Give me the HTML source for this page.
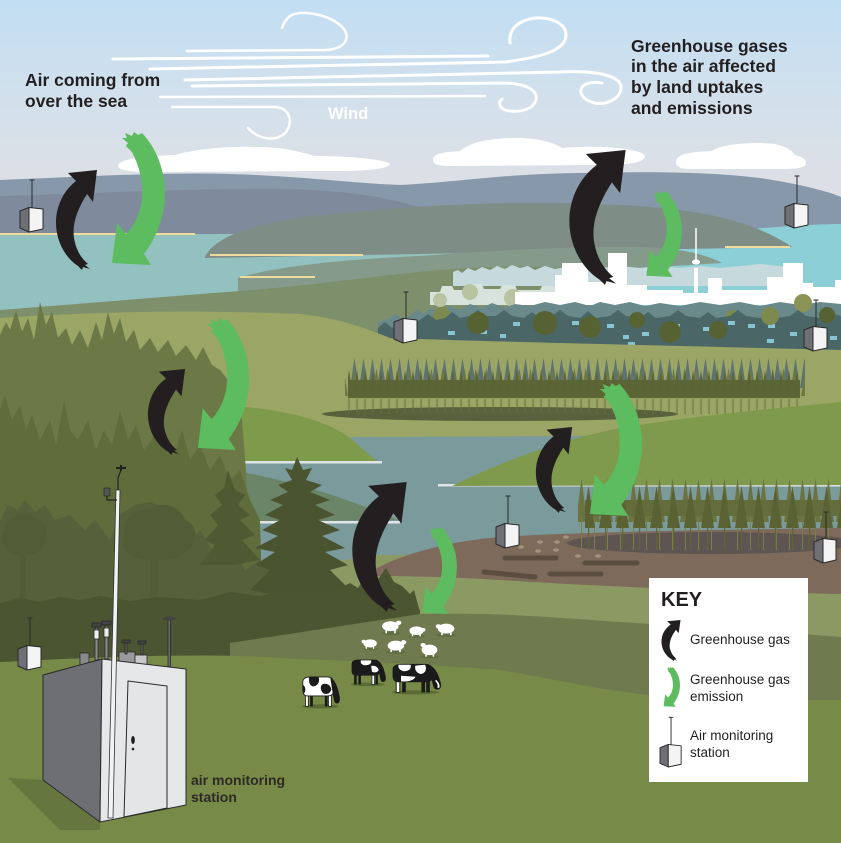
<!DOCTYPE html>
<html><head><meta charset="utf-8">
<style>
html,body{margin:0;padding:0;width:841px;height:843px;overflow:hidden;background:#fff;}
svg{display:block;}
text{font-family:"Liberation Sans",Arial,sans-serif;}
</style></head><body>
<svg width="841" height="843" viewBox="0 0 841 843" xmlns="http://www.w3.org/2000/svg">
<defs>
<linearGradient id="sky" x1="0" y1="0" x2="0" y2="1">
<stop offset="0" stop-color="#c2def3"/>
<stop offset="0.35" stop-color="#d3e0eb"/>
<stop offset="0.7" stop-color="#e0dfe4"/>
<stop offset="1" stop-color="#e0dfe4"/>
</linearGradient>
<pattern id="tA" width="9" height="34" patternUnits="userSpaceOnUse" x="350" y="358"><polygon points="4.5,0 9,30 0,30" fill="#5e7272"/></pattern>
<pattern id="tB2" width="11" height="40" patternUnits="userSpaceOnUse" x="349" y="366"><polygon points="5.5,2 10,30 1,30" fill="#6d7842"/></pattern>
<pattern id="tB" width="8" height="52" patternUnits="userSpaceOnUse" x="345" y="364"><polygon points="4,6 8,34 0,34" fill="#5b6434"/><rect x="3.5" y="32" width="1" height="20" fill="#6b7040"/></pattern>
<pattern id="tC" width="13" height="75" patternUnits="userSpaceOnUse" x="575" y="478"><polygon points="6.5,0 12,44 1,44" fill="#6b7441"/><rect x="6" y="40" width="1" height="35" fill="#7a7e47"/></pattern>
<pattern id="tD" width="17" height="70" patternUnits="userSpaceOnUse" x="580" y="486"><polygon points="8.5,0 15,42 2,42" fill="#5a6233"/><rect x="8" y="40" width="1.2" height="30" fill="#5e6536"/></pattern>
</defs>

<!-- sky -->
<rect x="0" y="0" width="841" height="300" fill="url(#sky)"/>

<!-- wind -->
<g fill="none" stroke="#ffffff" stroke-linecap="round">
<path d="M187,51 L325,50 C348,49 352,35 340,25 C325,13 300,10 290,16 C285,20 283,25 282,28" stroke-width="2.5"/>
<path d="M113,59 L488,56" stroke-width="3"/>
<path d="M150,69 L505,62 C535,58 566,52 566,35 C566,22 548,17 535,18 C520,20 508,28 510,43" stroke-width="3"/>
<path d="M185,80 L560,72 C600,70 622,77 621,88 C620,100 605,105 595,103 C582,100 578,92 583,86 C588,82 596,82 602,83" stroke-width="3"/>
<path d="M192,86 L505,83 C530,84 538,92 536,100 C533,110 520,112 510,111 C500,110 497,103 502,99" stroke-width="3"/>
<path d="M160,97 L485,96" stroke-width="2.5"/>
<path d="M172,107 L275,107 C292,108 293,125 285,133 C277,141 260,141 248,128" stroke-width="2.5"/>
</g>
<text x="328" y="119" font-size="16.5" font-weight="bold" fill="#ffffff">Wind</text>

<!-- clouds -->
<g fill="#ffffff">
<path d="M118,166 C118,158 150,156 175,155 C195,149 230,146 255,147 C285,147 300,152 315,156 C345,156 385,159 390,164 C388,170 360,171 330,171 L150,172 C128,172 118,170 118,166 Z"/>
<path d="M433,160 C433,153 445,152 460,151 C470,142 490,138 515,138 C540,138 555,143 562,148 C590,145 640,147 645,156 C645,164 620,165 600,165 L450,166 C438,166 433,164 433,160 Z"/>
<path d="M676,162 C676,154 690,152 712,151 C720,145 740,143 760,143 C780,143 790,148 795,155 C803,157 807,160 806,164 C804,169 790,169 780,169 L690,169 C680,169 676,166 676,162 Z"/>
</g>

<!-- mountains -->
<path d="M0,180 C80,177 160,172 230,174 C300,176 350,183 400,185 C460,182 500,174 580,173 C640,172 700,171 760,178 C800,184 830,192 841,197 L841,300 L0,300 Z" fill="#8898ab"/>
<path d="M0,196 C100,193 200,188 280,189 C350,190 400,198 440,215 L440,240 L0,240 Z" fill="#7f8b9c"/>

<!-- seas -->
<rect x="0" y="234" width="620" height="80" fill="#93c1bf"/>
<path d="M600,320 L600,250 L720,232 C780,226 820,224 841,224 L841,330 L600,330 Z" fill="#8ccfd6"/>
<rect x="0" y="233" width="195" height="2" fill="#eedc9c"/>

<!-- middle mound -->
<path d="M205,257 C215,235 260,222 320,215 C400,207 470,203 530,203 C600,203 660,206 700,213 C740,220 770,232 792,247 L205,258 Z" fill="#7f8d87"/>
<rect x="725" y="246" width="65" height="2" fill="#eedc9c"/>
<rect x="210" y="254" width="153" height="2" fill="#eedc9c"/>
<path d="M238,278 C270,268 330,260 420,256 C500,250 580,246 640,247 C680,248 705,254 722,263 L640,268 L600,275 L600,300 L238,300 Z" fill="#859a8b"/>
<rect x="240" y="276" width="75" height="2" fill="#eedc9c"/>

<!-- green hill -->
<path d="M0,310 C80,304 160,297 240,291 C320,285 380,275 440,270 C500,265 560,265 620,272 L640,300 L640,340 L0,340 Z" fill="#7e8f6b"/>

<!-- city -->
<path d="M453,286 L453,272 L458,270 L462,273 L468,268 L475,271 L482,267 L490,270 L497,266 L505,269 L512,265 L520,268 L528,266 L535,270 L545,266 L555,269 L565,267 L575,270 L585,266 L600,268 L620,266 L640,268 L660,266 L680,268 L700,266 L720,268 L740,266 L760,264 L780,266 L800,270 L800,286 Z" fill="#c6d9dc"/>
<path d="M430,305 L430,292 L440,292 L442,286 L452,286 L454,290 L470,290 L472,284 L482,284 L484,289 L500,289 L502,285 L515,285 L517,290 L540,290 L542,286 L555,286 L555,305 Z" fill="#d9e3de"/>
<g fill="#b9c3a2"><circle cx="470" cy="292" r="8"/><circle cx="513" cy="298" r="9"/><circle cx="440" cy="300" r="7"/></g>
<g fill="#ffffff">
<path d="M555,305 L555,275 L562,275 L562,263 L588,263 L588,282 L608,282 L608,253 L627,253 L627,285 L647,285 L647,290 L683,290 L683,293 L694,293 L694,268 L698,268 L698,293 L708,293 L708,278 L722,278 L722,290 L767,290 L767,277 L783,277 L783,263 L803,263 L803,283 L813,283 L813,287 L835,287 L835,280 L841,280 L841,305 Z"/>
<rect x="515" y="292" width="40" height="13"/>
<ellipse cx="696" cy="262" rx="4" ry="2.5"/>
</g>
<line x1="696" y1="228" x2="696" y2="262" stroke="#ffffff" stroke-width="1.5"/>

<!-- houses -->
<path d="M378,350 L378,322 L390,318 L395,314 L402,318 L410,316 L416,310 L424,314 L430,308 L440,312 L450,306 L460,310 L470,304 L482,308 L492,303 L505,308 L515,304 L530,306 L545,302 L560,305 L575,302 L590,306 L600,302 L615,305 L630,302 L645,306 L660,303 L680,306 L700,302 L720,305 L740,302 L760,306 L780,302 L800,305 L820,302 L841,304 L841,350 Z" fill="#6a898b"/>
<g fill="#7d8a4e"><circle cx="442" cy="316" r="9"/><circle cx="733" cy="318" r="8"/><circle cx="803" cy="303" r="9" fill="#8b9357"/></g>
<path d="M378,350 L378,328 L385,322 L392,328 L400,322 L405,318 L412,324 L420,320 L428,314 L436,320 L445,318 L452,312 L460,318 L470,316 L478,310 L486,316 L496,316 L504,310 L512,316 L524,318 L532,312 L540,318 L552,316 L560,310 L568,316 L580,318 L588,311 L596,318 L610,316 L618,310 L626,316 L640,318 L648,312 L656,318 L670,316 L678,310 L686,316 L700,318 L708,312 L716,318 L730,316 L738,310 L746,316 L760,318 L768,312 L776,318 L790,316 L798,310 L806,316 L820,318 L828,312 L841,316 L841,350 Z" fill="#4b6667"/>
<g fill="#88c3d2">
<rect x="448" y="331" width="7" height="4"/><rect x="480" y="330" width="7" height="4"/><rect x="500" y="334" width="6" height="4"/><rect x="513" y="322" width="7" height="4"/><rect x="572" y="321" width="7" height="4"/><rect x="607" y="324" width="7" height="4"/><rect x="623" y="335" width="6" height="4"/><rect x="642" y="332" width="7" height="4"/><rect x="673" y="324" width="7" height="4"/><rect x="703" y="327" width="7" height="4"/><rect x="728" y="321" width="7" height="4"/><rect x="748" y="324" width="7" height="4"/><rect x="768" y="324" width="7" height="4"/><rect x="790" y="332" width="7" height="4"/><rect x="767" y="339" width="7" height="4"/><rect x="830" y="336" width="7" height="4"/><rect x="628" y="342" width="7" height="3"/>
</g>
<g fill="#566232">
<circle cx="478" cy="323" r="11"/><circle cx="545" cy="323" r="12"/><circle cx="590" cy="327" r="11"/><circle cx="637" cy="320" r="8"/><circle cx="670" cy="332" r="11"/><circle cx="770" cy="316" r="9" fill="#7d8a4e"/><circle cx="827" cy="315" r="8"/><circle cx="718" cy="330" r="9"/>
</g>

<!-- field -->
<path d="M0,318 C100,311 200,310 300,314 C340,318 370,330 390,338 C500,342 650,345 841,350 L841,450 L0,450 Z" fill="#9aa566"/>

<!-- forest row -->
<ellipse cx="500" cy="414" rx="178" ry="7" fill="#58613b"/>
<rect x="350" y="358" width="455" height="30" fill="url(#tA)"/>
<rect x="345" y="366" width="460" height="32" fill="url(#tB2)"/>
<rect x="348" y="380" width="452" height="18" fill="#5c6536"/>
<rect x="348" y="364" width="450" height="50" fill="url(#tB)"/>

<!-- lake -->
<path d="M230,460 C260,450 300,440 360,437 L600,436 C640,437 680,440 700,445 L841,470 L841,565 L230,565 Z" fill="#7a9a9c"/>
<path d="M230,470 C280,478 340,495 398,520 L230,522 Z" fill="#6b8568"/>
<path d="M200,405 C260,405 320,415 350,438 C362,448 372,458 380,463 L200,463 Z" fill="#7e9a4b"/>
<rect x="240" y="461" width="142" height="2.5" fill="#e0e4e4"/>
<rect x="245" y="521" width="155" height="2.5" fill="#e0e4e4"/>
<rect x="438" y="484" width="403" height="2.5" fill="#e0e4e4"/>
<path d="M452,486 C500,462 560,440 620,428 C700,415 780,408 841,402 L841,485 L452,486 Z" fill="#7f9a4d"/>

<!-- lower light field, brown land -->
<path d="M240,585 L330,562 L380,555 L841,560 L841,720 L240,720 Z" fill="#8b9a63"/>
<path d="M370,572 C400,554 450,541 500,537 C580,532 700,530 841,528 L841,594 C760,592 620,588 500,580 C450,577 410,576 370,576 Z" fill="#7d6a5b"/>
<ellipse cx="712" cy="543" rx="145" ry="11" fill="#5e5452"/>
<g stroke-linecap="round">
<line x1="505" y1="558" x2="556" y2="558" stroke="#5b4d40" stroke-width="5"/>
<line x1="585" y1="563" x2="637" y2="563" stroke="#5b4d40" stroke-width="5"/>
<line x1="484" y1="572" x2="535" y2="577" stroke="#5b4d40" stroke-width="5"/>
<line x1="550" y1="574" x2="601" y2="574" stroke="#5b4d40" stroke-width="5"/>
</g>
<g fill="#a39279">
<ellipse cx="521" cy="547" rx="3" ry="1.8"/><ellipse cx="540" cy="542" rx="3" ry="1.8"/><ellipse cx="557" cy="542" rx="3" ry="1.8"/><ellipse cx="566" cy="537" rx="3" ry="1.8"/><ellipse cx="538" cy="551" rx="3" ry="1.8"/><ellipse cx="556" cy="550" rx="3" ry="1.8"/><ellipse cx="578" cy="556" rx="3" ry="1.8"/><ellipse cx="598" cy="556" rx="3" ry="1.8"/>
</g>
<rect x="578" y="478" width="263" height="72" fill="url(#tC)"/>
<rect x="585" y="500" width="256" height="16" fill="#636c3a"/>
<rect x="585" y="486" width="256" height="64" fill="url(#tD)"/>

<!-- left forest -->
<path d="M0,700 L0,335 L6,322 L10,330 L16,310 L22,332 L28,318 L34,340 L40,302 L46,325 L52,312 L58,338 L66,328 L72,345 L80,330 L88,348 L96,322 L102,340 L108,312 L114,334 L120,318 L126,342 L134,330 L140,350 L150,338 L158,352 L168,340 L176,356 L186,345 L196,360 L203,347 L212,365 L220,370 L228,380 L236,395 L242,420 L246,470 L248,520 L250,700 Z" fill="#6c7946"/>
<path d="M0,700 L0,410 L5,395 L12,420 L20,405 L26,430 L32,415 L40,440 L50,420 L56,445 L64,400 L70,430 L78,440 L88,420 L96,450 L104,430 L112,445 L120,410 L128,440 L136,425 L144,450 L152,440 L160,405 L166,440 L174,455 L182,430 L190,460 L200,445 L210,470 L220,455 L230,480 L240,470 L250,500 L260,520 L265,700 Z" fill="#5f6c3c"/>
<path d="M0,700 L0,520 L8,505 L18,510 L25,500 L35,512 L45,505 L55,520 L70,515 L85,530 L95,520 L110,540 L120,515 L135,505 L150,502 L165,508 L178,520 L190,540 L200,530 L215,555 L230,545 L245,570 L260,560 L280,580 L300,585 L330,590 L360,592 L400,600 L420,610 L420,700 Z" fill="#55613a"/>
<path d="M150,600 L150,560 C130,560 118,548 125,535 C120,520 135,508 150,510 C160,500 180,505 185,520 C200,525 198,545 185,552 C180,560 165,560 158,560 L158,600 Z" fill="#515d36"/>
<path d="M20,600 L20,555 C5,555 -2,540 5,528 C8,515 25,510 35,518 C48,520 50,540 40,550 C35,555 28,555 26,555 L26,600 Z" fill="#515d36"/>
<polygon points="228,470 235,490 245,495 238,505 250,515 240,520 255,535 242,540 260,560 235,565 200,565 215,545 205,540 218,525 210,515 222,505 215,495 224,488" fill="#4f5a33"/>
<polygon points="297,457 303,470 312,468 306,480 322,485 310,492 330,500 315,505 335,515 318,520 340,530 322,536 345,548 325,552 348,565 330,570 350,590 300,600 250,590 270,570 255,565 275,552 255,548 278,536 262,530 280,520 265,515 283,505 270,500 288,492 278,485 292,480 285,468 292,470" fill="#4a5430"/>
<path d="M0,700 L0,603 L20,598 L40,602 L60,597 L80,600 L100,596 L130,601 L160,597 L200,600 L230,592 L260,596 L290,590 L320,592 L340,588 L350,583 L358,588 L366,576 L374,585 L386,568 L394,582 L402,586 L410,594 L414,590 L420,612 L420,700 Z" fill="#4b5531"/>

<!-- mid band & foreground -->
<path d="M230,643 L420,614 C500,612 560,618 620,622 C720,628 780,632 841,637 L841,843 L230,843 Z" fill="#6f7a4f"/>
<path d="M0,662 C80,658 200,652 280,658 C380,662 450,666 500,670 C560,680 600,690 650,695 C720,700 780,700 841,700 L841,843 L0,843 Z" fill="#778a48"/>

<!-- sheep -->
<g fill="#ffffff">
<g transform="translate(381,619) scale(1.1)"><ellipse cx="9" cy="13" rx="9" ry="1.5" fill="#55653a" opacity="0.6"/><rect x="4" y="7" width="1.5" height="6"/><rect x="12" y="7" width="1.5" height="6"/><ellipse cx="8.5" cy="6.5" rx="7.5" ry="4.5"/><ellipse cx="16" cy="3.5" rx="2.5" ry="2"/></g>
<g transform="translate(408,625) scale(0.95)"><ellipse cx="9" cy="12" rx="9" ry="1.5" fill="#55653a" opacity="0.6"/><rect x="4" y="7" width="1.5" height="5"/><rect x="12" y="7" width="1.5" height="5"/><ellipse cx="9" cy="6" rx="7.5" ry="4.5"/><ellipse cx="16" cy="5" rx="2.5" ry="2"/></g>
<g transform="translate(456,622) scale(-1.1,1.1)"><ellipse cx="9" cy="12" rx="9" ry="1.5" fill="#55653a" opacity="0.6"/><rect x="4" y="7" width="1.5" height="5"/><rect x="12" y="7" width="1.5" height="5"/><ellipse cx="9" cy="6" rx="7.5" ry="4.5"/><ellipse cx="16" cy="4" rx="2.5" ry="2"/></g>
<g transform="translate(362,638) scale(0.9)"><ellipse cx="9" cy="12" rx="9" ry="1.5" fill="#55653a" opacity="0.6"/><rect x="4" y="7" width="1.5" height="5"/><rect x="12" y="7" width="1.5" height="5"/><ellipse cx="9" cy="6" rx="7.5" ry="4.5"/><ellipse cx="2" cy="4" rx="2.5" ry="2"/></g>
<g transform="translate(386,639) scale(1.1)"><ellipse cx="9" cy="12" rx="9" ry="1.5" fill="#55653a" opacity="0.6"/><rect x="4" y="7" width="1.5" height="5"/><rect x="12" y="7" width="1.5" height="5"/><ellipse cx="9" cy="6" rx="7.5" ry="4.5"/><ellipse cx="16" cy="3" rx="2.5" ry="2"/></g>
<g transform="translate(420,642) scale(1.05)"><ellipse cx="9" cy="14" rx="9" ry="1.5" fill="#55653a" opacity="0.6"/><rect x="5" y="8" width="1.5" height="6"/><rect x="12" y="8" width="1.5" height="6"/><ellipse cx="9" cy="7.5" rx="7.5" ry="5"/><ellipse cx="3" cy="3" rx="2.5" ry="2"/></g>
</g>

<!-- cows -->
<g transform="translate(300,675) scale(0.92,0.95)">
<ellipse cx="22" cy="33" rx="20" ry="2.2" fill="#4f5e30" opacity="0.7"/>
<rect x="6" y="18" width="3" height="15" fill="#fff" stroke="#1a1a1a" stroke-width="0.8"/><rect x="11" y="19" width="3" height="14" fill="#1a1a1a"/><rect x="27" y="19" width="3" height="14" fill="#1a1a1a"/><rect x="31" y="18" width="3" height="15" fill="#fff" stroke="#1a1a1a" stroke-width="0.8"/>
<path d="M3,8 C3,3 7,2 12,2 L30,2 C34,2 36,4 36,8 L36,18 C36,21 33,22 30,22 L8,22 C4,22 3,19 3,15 Z" fill="#fff" stroke="#1a1a1a" stroke-width="0.9"/>
<path d="M10,2 L20,2 C22,6 20,11 15,12 C11,12 9,8 10,2 Z" fill="#1a1a1a"/><path d="M24,10 C28,8 33,10 34,15 C33,20 28,21 25,19 C22,16 22,12 24,10 Z" fill="#1a1a1a"/><path d="M3,10 C6,12 7,17 4,20 L3,15 Z" fill="#1a1a1a"/>
<path d="M33,3 C38,5 41,12 43,22 C44,27 43,30 40,30 C37,30 37,26 36,22 L35,16 Z" fill="#1a1a1a"/>
</g>
<g transform="translate(349,658) scale(0.85,0.8)">
<ellipse cx="22" cy="33" rx="20" ry="2.2" fill="#4f5e30" opacity="0.7"/>
<rect x="6" y="18" width="3" height="15" fill="#1a1a1a"/><rect x="11" y="19" width="3" height="14" fill="#1a1a1a"/><rect x="27" y="19" width="3" height="14" fill="#fff" stroke="#1a1a1a" stroke-width="0.8"/><rect x="31" y="18" width="3" height="15" fill="#1a1a1a"/>
<path d="M3,8 C3,3 7,2 12,2 L30,2 C34,2 36,4 36,8 L36,18 C36,21 33,22 30,22 L8,22 C4,22 3,19 3,15 Z" fill="#1a1a1a"/>
<path d="M14,3 L26,3 C27,7 24,9 19,9 C15,9 13,6 14,3 Z" fill="#fff"/><path d="M26,10 C30,9 34,11 35,15 C34,18 30,19 27,17 Z" fill="#fff"/>
<path d="M33,3 C38,5 41,12 43,22 C44,27 43,30 40,30 C37,30 37,26 36,22 L35,16 Z" fill="#1a1a1a"/>
</g>
<g transform="translate(389,662) scale(1.2,0.92)">
<ellipse cx="22" cy="33" rx="20" ry="2.2" fill="#4f5e30" opacity="0.7"/>
<rect x="6" y="18" width="3" height="15" fill="#fff" stroke="#1a1a1a" stroke-width="0.8"/><rect x="11" y="19" width="3" height="14" fill="#1a1a1a"/><rect x="27" y="19" width="3" height="14" fill="#1a1a1a"/><rect x="31" y="18" width="3" height="15" fill="#1a1a1a"/>
<path d="M3,8 C3,3 7,2 12,2 L30,2 C34,2 36,4 36,8 L36,18 C36,21 33,22 30,22 L8,22 C4,22 3,19 3,15 Z" fill="#1a1a1a"/>
<path d="M8,3 L18,3 C19,8 16,10 12,10 C9,9 7,6 8,3 Z" fill="#fff"/><path d="M22,4 L30,3 C32,8 30,13 26,13 C23,12 21,8 22,4 Z" fill="#fff"/><path d="M10,15 L22,16 C21,20 15,22 10,21 Z" fill="#fff"/>
<path d="M33,3 C38,5 41,12 43,22 C44,27 43,30 40,30 C37,30 37,26 36,22 L35,16 Z" fill="#1a1a1a"/><path d="M39,20 C41,23 42,26 41,28" stroke="#fff" stroke-width="1.5" fill="none"/>
</g>

<!-- small stations -->
<g stroke="#2a2a2a" stroke-width="1" stroke-linejoin="round">
<g transform="translate(20,207)"><line x1="12" y1="-27" x2="12" y2="1"/><line x1="9.5" y1="-27" x2="14.5" y2="-27"/><polygon points="0,4 9,0.5 9,25 0,21" fill="#6f7075"/><polygon points="9,0.5 23,2 23,22 9,25" fill="#f4f4f4"/></g>
<g transform="translate(785,203)"><line x1="12" y1="-27" x2="12" y2="1"/><line x1="9.5" y1="-27" x2="14.5" y2="-27"/><polygon points="0,4 9,0.5 9,25 0,21" fill="#6f7075"/><polygon points="9,0.5 23,2 23,22 9,25" fill="#f4f4f4"/></g>
<g transform="translate(394,318)"><line x1="12" y1="-26" x2="12" y2="1"/><line x1="9.5" y1="-26" x2="14.5" y2="-26"/><polygon points="0,4 9,0.5 9,25 0,21" fill="#6f7075"/><polygon points="9,0.5 23,2 23,22 9,25" fill="#f4f4f4"/></g>
<g transform="translate(804,326)"><line x1="12" y1="-26" x2="12" y2="1"/><line x1="9.5" y1="-26" x2="14.5" y2="-26"/><polygon points="0,4 9,0.5 9,25 0,21" fill="#6f7075"/><polygon points="9,0.5 23,2 23,22 9,25" fill="#f4f4f4"/></g>
<g transform="translate(496,523)"><line x1="12" y1="-27" x2="12" y2="1"/><line x1="9.5" y1="-27" x2="14.5" y2="-27"/><polygon points="0,4 9,0.5 9,25 0,21" fill="#6f7075"/><polygon points="9,0.5 23,2 23,22 9,25" fill="#f4f4f4"/></g>
<g transform="translate(814,538)"><line x1="12" y1="-26" x2="12" y2="1"/><line x1="9.5" y1="-26" x2="14.5" y2="-26"/><polygon points="0,4 9,0.5 9,25 0,21" fill="#6f7075"/><polygon points="9,0.5 22,2 22,22 9,25" fill="#f4f4f4"/></g>
<g transform="translate(18,645)"><line x1="12" y1="-27" x2="12" y2="1"/><line x1="9.5" y1="-27" x2="14.5" y2="-27"/><polygon points="0,4 9,0.5 9,25 0,21" fill="#6f7075"/><polygon points="9,0.5 23,2 23,22 9,25" fill="#f4f4f4"/></g>
</g>

<!-- big station -->
<polygon points="8,778 43,780 100,822 100,830 60,830" fill="#65773f"/>
<g stroke="#2a2a2a" stroke-width="0.8">
<rect x="80" y="653" width="9" height="12" fill="#8a8a8e"/>
<rect x="119" y="652" width="16" height="13" fill="#9a9a9e"/>
<rect x="135" y="655" width="12" height="13" fill="#c8c8ca"/>
<rect x="95" y="628" width="3" height="32" fill="#8d8d90"/><rect x="92" y="623" width="9" height="4" fill="#444"/><rect x="94" y="630" width="5" height="9" fill="#eee"/>
<rect x="105" y="626" width="3" height="33" fill="#8d8d90"/><rect x="102" y="621" width="9" height="4" fill="#444"/><rect x="104" y="628" width="5" height="9" fill="#eee"/>
<rect x="125" y="642" width="2" height="12" fill="#666"/><rect x="122" y="640" width="8" height="3" fill="#444"/>
<rect x="141" y="643" width="2" height="12" fill="#666"/><rect x="138" y="641" width="8" height="3" fill="#444"/>
<rect x="168" y="620" width="2.5" height="47" fill="#6a6a6d"/>
</g>
<path d="M163,620 C163,615 176,615 176,620 Z" fill="#444"/>
<g stroke="#2a2a2a" stroke-width="1" stroke-linejoin="round">
<polygon points="43,675 102,659 100,822 43,780" fill="#6e6f74"/>
<polygon points="102,659 186,669 186,805 100,822" fill="#e6e7e9"/>
<polygon points="128,681 167,686 167,808 124,817" fill="#e4e5e7"/>
</g>
<ellipse cx="133" cy="740" rx="1.8" ry="4" fill="#1a1a1a"/>
<circle cx="133" cy="749" r="1.3" fill="#1a1a1a"/>
<polygon points="116,490 120,490 113,818 108,818" fill="#f2f2f2" stroke="#333" stroke-width="0.8"/>
<path d="M118,490 L118,478 L121,470" stroke="#222" stroke-width="1.2" fill="none"/>
<path d="M116,468 L126,468 M121,465 L121,471" stroke="#222" stroke-width="2"/>
<path d="M107,493 L107,500 L117,500" stroke="#222" stroke-width="1.2" fill="none"/>
<rect x="104" y="488" width="6" height="8" fill="#555" stroke="#222" stroke-width="0.6"/>

<!-- black arrows -->
<g fill="#231f20">
<path transform="translate(55,170)" d="M13,3 L42,0 L38,32 L32,24 C22,40 17,54 19,68 C21,80 26,88 33,94 L30,95 L35,99 L28,97 L27,100 L23,96 C6,85 -2,62 2,42 C5,28 12,18 21,11 Z"/>
<path transform="translate(147,369) scale(0.907,0.86)" d="M13,3 L42,0 L38,32 L32,24 C22,40 17,54 19,68 C21,80 26,88 33,94 L30,95 L35,99 L28,97 L27,100 L23,96 C6,85 -2,62 2,42 C5,28 12,18 21,11 Z"/>
<path transform="translate(351,482) scale(1.326,1.3)" d="M13,3 L42,0 L38,32 L32,24 C22,40 17,54 19,68 C21,80 26,88 33,94 L30,95 L35,99 L28,97 L27,100 L23,96 C6,85 -2,62 2,42 C5,28 12,18 21,11 Z"/>
<path transform="translate(535,427) scale(0.884,0.86)" d="M13,3 L42,0 L38,32 L32,24 C22,40 17,54 19,68 C21,80 26,88 33,94 L30,95 L35,99 L28,97 L27,100 L23,96 C6,85 -2,62 2,42 C5,28 12,18 21,11 Z"/>
<path transform="translate(568,150) scale(1.372,1.35)" d="M13,3 L42,0 L38,32 L32,24 C22,40 17,54 19,68 C21,80 26,88 33,94 L30,95 L35,99 L28,97 L27,100 L23,96 C6,85 -2,62 2,42 C5,28 12,18 21,11 Z"/>
</g>
<!-- green arrows -->
<g fill="#5cbc5f">
<path transform="translate(110,132)" d="M2,131 L7,91 L16,102 C32,86 40,55 22,20 L16,14 L18,11 L12,6 L17,6 L15,1 L22,4 L24,0 L28,3 L32,1 C58,28 66,80 34,122 L41,133 Z"/>
<path transform="translate(196,318) scale(0.966,0.992)" d="M2,131 L7,91 L16,102 C32,86 40,55 22,20 L16,14 L18,11 L12,6 L17,6 L15,1 L22,4 L24,0 L28,3 L32,1 C58,28 66,80 34,122 L41,133 Z"/>
<path transform="translate(645,191) scale(0.672,0.647)" d="M2,131 L7,91 L16,102 C32,86 40,55 22,20 L16,14 L18,11 L12,6 L17,6 L15,1 L22,4 L24,0 L28,3 L32,1 C58,28 66,80 34,122 L41,133 Z"/>
<path transform="translate(588,383) scale(0.983,1.0)" d="M2,131 L7,91 L16,102 C32,86 40,55 22,20 L16,14 L18,11 L12,6 L17,6 L15,1 L22,4 L24,0 L28,3 L32,1 C58,28 66,80 34,122 L41,133 Z"/>
<path transform="translate(421,527) scale(0.655,0.654)" d="M2,131 L7,91 L16,102 C32,86 40,55 22,20 L16,14 L18,11 L12,6 L17,6 L15,1 L22,4 L24,0 L28,3 L32,1 C58,28 66,80 34,122 L41,133 Z"/>
</g>

<!-- texts -->
<g font-weight="bold" fill="#231f20" font-size="17.5">
<text x="25" y="86">Air coming from</text>
<text x="25" y="107">over the sea</text>
<text x="631" y="52">Greenhouse gases</text>
<text x="631" y="72">in the air affected</text>
<text x="631" y="93">by land uptakes</text>
<text x="631" y="114">and emissions</text>
</g>
<text x="191" y="785" font-size="14" font-weight="bold" fill="#2d2a26">air monitoring</text>
<text x="191" y="802" font-size="14" font-weight="bold" fill="#2d2a26">station</text>

<!-- key -->
<rect x="649" y="578" width="159" height="204" fill="#ffffff"/>
<text x="661" y="606" font-size="20" font-weight="bold" fill="#231f20">KEY</text>
<path fill="#231f20" transform="translate(661,620) scale(0.465,0.41)" d="M13,3 L42,0 L38,32 L32,24 C22,40 17,54 19,68 C21,80 26,88 33,94 L30,95 L35,99 L28,97 L27,100 L23,96 C6,85 -2,62 2,42 C5,28 12,18 21,11 Z"/>
<path fill="#5cbc5f" transform="translate(663,667) scale(0.31,0.30)" d="M2,131 L7,91 L16,102 C32,86 40,55 22,20 L16,14 L18,11 L12,6 L17,6 L15,1 L22,4 L24,0 L28,3 L32,1 C58,28 66,80 34,122 L41,133 Z"/>
<g transform="translate(660,744) scale(0.92)" stroke="#2a2a2a" stroke-width="1" stroke-linejoin="round"><line x1="12" y1="-29" x2="12" y2="1"/><line x1="9.5" y1="-29" x2="14.5" y2="-29"/><polygon points="0,4 9,0.5 9,25 0,21" fill="#6f7075"/><polygon points="9,0.5 23,2 23,22 9,25" fill="#f4f4f4"/></g>
<g font-size="13.5" fill="#231f20">
<text x="690" y="644">Greenhouse gas</text>
<text x="690" y="684">Greenhouse gas</text>
<text x="690" y="701">emission</text>
<text x="690" y="740">Air monitoring</text>
<text x="690" y="757">station</text>
</g>
</svg>
</body></html>
